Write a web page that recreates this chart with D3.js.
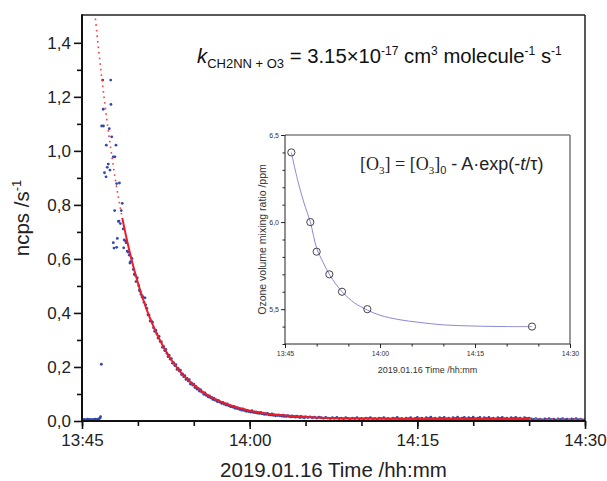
<!DOCTYPE html>
<html><head><meta charset="utf-8">
<script src="https://cdn.jsdelivr.net/npm/d3@7"></script>
<style>body{margin:0;background:#fff} svg{display:block}</style>
</head><body><svg id="c" width="607" height="481"></svg>
<script>
// ---------- DATA (times in minutes after 13:45, 2019-01-16) ----------
const startTime = new Date(2019, 0, 16, 13, 45, 0);
const endTime = new Date(2019, 0, 16, 14, 30, 0);

// early, scattered signal (explicit time/value pairs)
const earlyTimes = [0,0.1,0.2,0.3,0.4,0.5,0.6,0.7,0.8,0.9,1.0,1.1,1.2,1.3,1.4,1.5,1.6,1.66,1.73,
  1.76,1.85,1.90,1.92,2.01,2.15,2.17,2.26,2.35,2.44,2.50,2.57,2.59,2.66,2.80,2.80,2.86,2.92,2.95,3.04,3.10,3.10,3.16,
  3.26,3.31,3.35,3.43,3.51,3.60,3.69,3.73,3.78,3.91,3.95,4.05,4.14,4.23,4.29,4.35,4.47,4.59,4.68,4.75,4.83,4.95,
  5.07,5.13,5.20,5.28,5.37,5.45,5.55,5.64,5.70];
const earlyValues = [.005,.004,.006,.003,.005,.007,.004,.006,.005,.003,.006,.004,.007,.005,.006,.008,.010,.016,.210,
  1.092,1.262,1.154,1.092,0.919,0.904,1.021,0.939,0.951,1.082,0.929,1.262,1.172,1.052,0.978,0.660,0.640,0.779,0.978,1.021,0.879,0.643,0.676,
  0.739,0.740,0.881,0.731,0.779,0.806,0.711,0.641,0.670,0.666,0.660,0.629,0.625,0.614,0.585,0.590,0.602,0.561,0.544,0.540,0.516,0.530,
  0.501,0.485,0.480,0.469,0.459,0.460,0.440,0.456,0.430];

// decay signal sampled every 0.1 min from 5.8 min
const decayStart = 5.8, decayStep = 0.1;
const decayValues = [.417,.393,.392,.370,.371,.366,.345,.332,.336,.322,.307,.313,.294,.293,.273,.276,.261,.265,.250,.238,
  .243,.229,.231,.214,.216,.205,.209,.191,.195,.185,.188,.172,.174,.164,.168,.154,.158,.148,.153,.137,
  .141,.133,.136,.124,.128,.118,.121,.111,.116,.107,.107,.099,.104,.095,.095,.089,.093,.086,.087,.080,
  .085,.077,.078,.072,.076,.070,.070,.065,.069,.063,.063,.059,.063,.057,.058,.053,.054,.051,.054,.047,
  .049,.046,.048,.043,.044,.040,.045,.039,.040,.036,.039,.035,.036,.033,.038,.032,.033,.031,.033,.029,
  .030,.028,.032,.027,.029,.025,.026,.025,.028,.023,.024,.022,.026,.021,.023,.019,.022,.020,.023,.019,
  .020,.018,.022,.017,.019,.017,.020,.017,.018,.015,.019,.016,.016,.014,.018,.015,.015,.013,.017,.014,
  .014,.012];

// tail signal sampled every 0.2 min from 20 min
const tailStart = 20.0, tailStep = 0.2;
const tailValues = [.016,.013,.015,.012,.014, .011,.014,.012,.010,.013, .011,.009,.012,.010,.013, .009,.011,.008,.012,.010,
  .008,.011,.009,.012,.008, .010,.007,.011,.009,.012, .008,.010,.007,.011,.009, .012,.008,.010,.007,.011,
  .009,.013,.008,.010,.007, .011,.009,.012,.008,.010, .013,.009,.011,.008,.012, .010,.014,.009,.011,.008,
  .012,.010,.013,.009,.011, .008,.012,.010,.014,.009, .011,.013,.009,.012,.010, .014,.009,.011,.013,.008,
  .012,.010,.013,.009,.011, .008,.012,.010,.013,.009, .011,.008,.012,.010,.013, .009,.011,.008,.012,.010,
  .011,.008,.006,.009,.005, .007,.004,.008,.006,.009, .005,.007,.004,.008,.006, .009,.005,.007,.004,.008,
  .006,.009,.005,.007,.004, .006];

// exponential fit (solid) and extrapolations (dotted)
const fitTimes = [3.6,4,4.5,5,5.5,6,6.5,7,7.5,8,8.5,9,9.5,10,11,12,13,14,15,16,17,18,20,22,25,30,35,40];
const fitValues = [0.752,0.674,0.587,0.512,0.446,0.389,0.340,0.297,0.259,0.226,0.198,0.173,0.152,0.133,0.102,0.079,0.062,0.049,0.038,0.031,0.025,0.021,0.015,0.0115,0.009,0.0075,0.007,0.007];
const extrapTimes = [1.2,1.5,2.0,2.5,3.0,3.6];
const extrapValues = [1.49,1.37,1.19,1.03,0.89,0.752];
const afterTimes = [40,45];
const afterValues = [0.007,0.007];

const yTicks = [0,0.2,0.4,0.6,0.8,1.0,1.2,1.4];
const yMinorTicks = [0.1,0.3,0.5,0.7,0.9,1.1,1.3];

// inset: ozone mixing ratio
const o3Times = [1,4,5,7,9,13,39];
const o3Values = [6.40,6.00,5.83,5.70,5.60,5.50,5.40];
const o3FitTimes = [1,2,3,4,5,6,7,8,9,10,11,13,15,18,21,25,30,35,39];
const o3FitValues = [6.40,6.24,6.11,6.00,5.85,5.77,5.70,5.645,5.60,5.565,5.535,5.495,5.465,5.44,5.425,5.41,5.403,5.40,5.40];
const insetYTicks = [5.5,6.0,6.5];
const insetYMinor = [5.3,5.4,5.6,5.7,5.8,5.9,6.1,6.2,6.3,6.4];

// ---------- DRAW ----------
const toDate = m => new Date(+startTime + m * 60000);
const FONT = "'Liberation Sans', Arial, sans-serif";
const SERIF = "'Liberation Serif', 'Times New Roman', serif";
const svg = d3.select("#c").attr("font-family", FONT);

const L = 82, R = 585, T = 15, B = 421;
const x = d3.scaleTime().domain([startTime, endTime]).range([L, R]);
const y = d3.scaleLinear().domain([0, 1.503]).range([B, T]);
const comma = d => d3.format(".1f")(d).replace(".", ",");

svg.append("defs").append("clipPath").attr("id", "clip")
  .append("rect").attr("x", L).attr("y", T).attr("width", R - L).attr("height", B - T);

// points
const pts = [];
earlyTimes.forEach((t, i) => pts.push([t, earlyValues[i]]));
decayValues.forEach((v, i) => pts.push([decayStart + i * decayStep, v]));
tailValues.forEach((v, i) => pts.push([tailStart + i * tailStep, v]));

const gData = svg.append("g").attr("clip-path", "url(#clip)");
gData.selectAll("circle.p").data(pts).join("circle").attr("class", "p")
  .attr("cx", d => x(toDate(d[0]))).attr("cy", d => y(d[1])).attr("r", 1.4)
  .attr("fill", "#2f47b0");

const line = d3.line().x(d => x(toDate(d[0]))).y(d => y(d[1])).curve(d3.curveMonotoneX);
gData.append("path").datum(extrapTimes.map((t, i) => [t, extrapValues[i]]))
  .attr("d", line).attr("fill", "none").attr("stroke", "#ff3b3b").attr("stroke-width", 1.6)
  .attr("stroke-dasharray", "1.6,4");
gData.append("path").datum(afterTimes.map((t, i) => [t, afterValues[i]]))
  .attr("d", line).attr("fill", "none").attr("stroke", "#ff3b3b").attr("stroke-width", 1.6)
  .attr("stroke-dasharray", "1.6,4");
gData.append("path").datum(fitTimes.map((t, i) => [t, fitValues[i]]))
  .attr("d", line).attr("fill", "none").attr("stroke", "#ee1c25").attr("stroke-width", 2);

// axes
const gy = svg.append("g").attr("transform", `translate(${L},0)`)
  .call(d3.axisLeft(y).tickValues(yTicks).tickSize(8).tickPadding(3).tickFormat(comma));
const gym = svg.append("g").attr("transform", `translate(${L},0)`)
  .call(d3.axisLeft(y).tickValues(yMinorTicks).tickSize(5).tickFormat(""));
const gx = svg.append("g").attr("transform", `translate(0,${B})`)
  .call(d3.axisBottom(x).ticks(d3.timeMinute.every(15)).tickSize(8).tickPadding(5)
    .tickFormat(d3.timeFormat("%H:%M")));
const gxm = svg.append("g").attr("transform", `translate(0,${B})`)
  .call(d3.axisBottom(x).ticks(d3.timeMinute.every(5)).tickSize(5).tickFormat(""));
[gy, gym, gx, gxm].forEach(g => {
  g.select(".domain").remove();
  g.selectAll("line").attr("stroke", "#111").attr("stroke-width", 1.6);
  g.selectAll("text").attr("font-size", 17).attr("fill", "#222").attr("font-family", FONT);
});
// frame
svg.append("line").attr("x1", L).attr("x2", R).attr("y1", T).attr("y2", T).attr("stroke", "#222").attr("stroke-width", 1.5);
svg.append("line").attr("x1", R).attr("x2", R).attr("y1", T).attr("y2", B).attr("stroke", "#222").attr("stroke-width", 1.5);
svg.append("line").attr("x1", L).attr("x2", L).attr("y1", T - 0.75).attr("y2", B + 1).attr("stroke", "#111").attr("stroke-width", 2);
svg.append("line").attr("x1", L - 1).attr("x2", R + 0.75).attr("y1", B).attr("y2", B).attr("stroke", "#111").attr("stroke-width", 2);

// axis titles
svg.append("text").attr("x", (L + R) / 2).attr("y", 477).attr("text-anchor", "middle")
  .attr("font-size", 20.5).attr("fill", "#222").text("2019.01.16 Time /hh:mm");
const yt = svg.append("text").attr("transform", `translate(29,${(T + B) / 2}) rotate(-90)`)
  .attr("text-anchor", "middle").attr("font-size", 20.5).attr("fill", "#222");
yt.append("tspan").text("ncps /s");
yt.append("tspan").attr("font-size", 13).attr("dy", -8).text("-1");

// rate constant annotation
const eq = svg.append("text").attr("x", 197).attr("y", 63).attr("font-size", 20.3).attr("fill", "#111");
eq.append("tspan").attr("font-style", "italic").text("k");
eq.append("tspan").attr("font-size", 13).attr("dy", 5).text("CH2NN + O3");
eq.append("tspan").attr("dy", -5).text(" = 3.15×10");
eq.append("tspan").attr("font-size", 12).attr("dy", -8).text("-17");
eq.append("tspan").attr("dy", 8).text(" cm");
eq.append("tspan").attr("font-size", 12).attr("dy", -8).text("3");
eq.append("tspan").attr("dy", 8).text(" molecule");
eq.append("tspan").attr("font-size", 12).attr("dy", -8).text("-1");
eq.append("tspan").attr("dy", 8).text(" s");
eq.append("tspan").attr("font-size", 12).attr("dy", -8).text("-1");

// ---------- INSET ----------
const iL = 285, iR = 570, iT = 135, iB = 344;
const xi = d3.scaleTime().domain([startTime, endTime]).range([iL, iR]);
const yi = d3.scaleLinear().domain([5.3, 6.5]).range([iB, iT]);
svg.append("rect").attr("x", iL).attr("y", iT).attr("width", iR - iL).attr("height", iB - iT).attr("fill", "#fff");

const iline = d3.line().x(d => xi(toDate(d[0]))).y(d => yi(d[1])).curve(d3.curveCatmullRom);
svg.append("path").datum(o3FitTimes.map((t, i) => [t, o3FitValues[i]]))
  .attr("d", iline).attr("fill", "none").attr("stroke", "#8a8ad8").attr("stroke-width", 1);
svg.selectAll("circle.o3").data(o3Times.map((t, i) => [t, o3Values[i]])).join("circle").attr("class", "o3")
  .attr("cx", d => xi(toDate(d[0]))).attr("cy", d => yi(d[1])).attr("r", 3.6)
  .attr("fill", "none").attr("stroke", "#444").attr("stroke-width", 1);

const giy = svg.append("g").attr("transform", `translate(${iL},0)`)
  .call(d3.axisLeft(yi).tickValues(insetYTicks).tickSize(4).tickPadding(2).tickFormat(comma));
const giym = svg.append("g").attr("transform", `translate(${iL},0)`)
  .call(d3.axisLeft(yi).tickValues(insetYMinor).tickSize(2.5).tickFormat(""));
const gix = svg.append("g").attr("transform", `translate(0,${iB})`)
  .call(d3.axisBottom(xi).ticks(d3.timeMinute.every(15)).tickSize(4).tickPadding(3)
    .tickFormat(d3.timeFormat("%H:%M")));
const gixm = svg.append("g").attr("transform", `translate(0,${iB})`)
  .call(d3.axisBottom(xi).ticks(d3.timeMinute.every(5)).tickSize(2.5).tickFormat(""));
[giy, giym, gix, gixm].forEach(g => {
  g.select(".domain").remove();
  g.selectAll("line").attr("stroke", "#222").attr("stroke-width", 1);
  g.selectAll("text").attr("font-size", 7).attr("fill", "#333").attr("font-family", FONT);
});
svg.append("line").attr("x1", iL).attr("x2", iR).attr("y1", iT).attr("y2", iT).attr("stroke", "#808080").attr("stroke-width", 1.6);
svg.append("line").attr("x1", iR).attr("x2", iR).attr("y1", iT).attr("y2", iB).attr("stroke", "#808080").attr("stroke-width", 1.6);
svg.append("line").attr("x1", iL).attr("x2", iL).attr("y1", iT).attr("y2", iB).attr("stroke", "#222").attr("stroke-width", 1);
svg.append("line").attr("x1", iL).attr("x2", iR).attr("y1", iB).attr("y2", iB).attr("stroke", "#222").attr("stroke-width", 1);

svg.append("text").attr("x", (iL + iR) / 2).attr("y", 373).attr("text-anchor", "middle")
  .attr("font-size", 9).attr("fill", "#333").text("2019.01.16 Time /hh:mm");
svg.append("text").attr("transform", `translate(266,${(iT + iB) / 2}) rotate(-90)`)
  .attr("text-anchor", "middle").attr("font-size", 10.5).attr("fill", "#333").text("Ozone volume mixing ratio /ppm");

// inset formula
const f = svg.append("text").attr("x", 360).attr("y", 170).attr("font-size", 18).attr("fill", "#222");
f.append("tspan").attr("font-family", SERIF).text("[O");
f.append("tspan").attr("font-family", SERIF).attr("font-size", 11).attr("dy", 4).text("3");
f.append("tspan").attr("font-family", SERIF).attr("dy", -4).text("] = [O");
f.append("tspan").attr("font-family", SERIF).attr("font-size", 11).attr("dy", 4).text("3");
f.append("tspan").attr("font-family", SERIF).attr("dy", -4).text("]");
f.append("tspan").attr("font-size", 11).attr("dy", 4).text("0");
f.append("tspan").attr("dy", -4).text(" - A·exp(-");
f.append("tspan").attr("font-style", "italic").text("t");
f.append("tspan").text("/τ)");
</script></body></html>
